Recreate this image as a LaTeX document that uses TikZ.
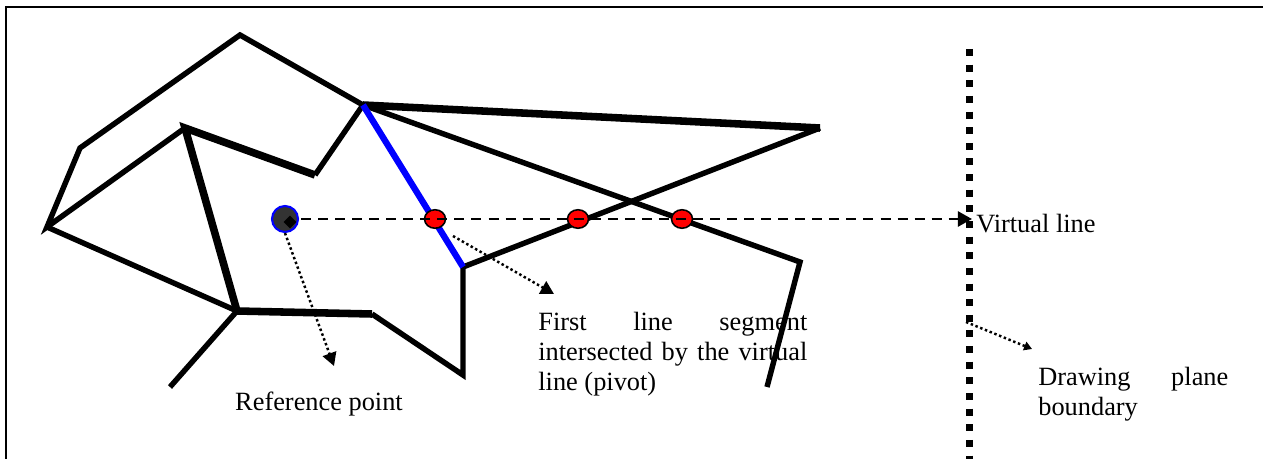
\documentclass[tikz,border=0pt]{standalone}
\usepackage{fontspec}
\setmainfont{Liberation Serif}
\usetikzlibrary{arrows.meta,positioning,shapes.geometric}

\begin{document}
\begin{tikzpicture}[
  x=0.02cm, y=-0.02cm,
  every node/.style={font=\fontsize{15}{17}\selectfont, inner sep=0pt},
  edge/.style ={line width=3.1pt},
  heavy/.style={line width=4.3pt},
  pivot/.style={line width=3.6pt, draw=blue},
  hit/.style  ={ellipse, draw=black, line width=0.9pt, fill=red,
                minimum width=0.42cm, minimum height=0.37cm},
  refpt/.style={circle, draw=blue, line width=1.2pt, fill=black!80,
                minimum size=0.52cm},
  virt/.style ={-{Triangle[length=8pt,width=8.5pt]}, line width=1.5pt,
                dash pattern=on 5.7pt off 4pt},
  pointer/.style={-{Triangle[length=7.5pt,width=8pt]}, line width=1.4pt,
                dash pattern=on 1.4pt off 1.5pt},
  border/.style={line width=4pt, dash pattern=on 4pt off 4.9pt},
  note/.style ={align=justify, anchor=north west}]

\clip (0,0) rectangle (1263,459);
\useasboundingbox (0,0) rectangle (1263,459);
\draw[line width=1.2pt] (6,480) -- (6,7) -- (1290,7);

% vertices of the line drawing
\coordinate (A) at (240,35);
\coordinate (B) at (80,148);
\coordinate (C) at (47,227);
\coordinate (D) at (185,128);
\coordinate (E) at (315,175);
\coordinate (F) at (363,105);
\coordinate (G) at (820,128);
\coordinate (H) at (463,267);
\coordinate (I) at (463,375);
\coordinate (J) at (372,314);
\coordinate (K) at (237,311);
\coordinate (L) at (170,387);
\coordinate (M) at (800,262);
\coordinate (N) at (767,387);

% labels
\node[anchor=base west] (vlab) at (976,233) {Virtual line};
\node[anchor=base] (rlab) at (319,410) {Reference point};
\node[note, text width=5.38cm] (plab) at (538,312)
     {First line segment\linebreak intersected by the virtual\linebreak line (pivot)};
\node[note, text width=3.8cm] (blab) at (1038,367)
     {Drawing plane\linebreak boundary};

% segments
\draw[edge]  (D) -- (C) -- (B) -- (A) -- (F);
\draw[heavy] (K) -- (D) -- (E);
\draw[edge]  (E) -- (F);
\draw[heavy] (F) -- (G);
\draw[edge]  (F) -- (M) -- (N);
\draw[edge]  (H) -- (G);
\draw[edge]  (H) -- (I) -- (J);
\draw[heavy] (J) -- (K);
\draw[edge]  (C) -- (K) -- (L);
\draw[pivot] (F) -- (H);

% drawing plane boundary
\coordinate (btop) at (969,49);
\coordinate (bbot) at (969,470);
\draw[border] (btop) -- (bbot);

% reference point and the virtual line
\node[refpt] (ref) at (285,219) {};
\node[fill=black, rotate=45, minimum size=0.18cm] (refmark) at (290,222) {};
\node[hit] (hit1) at (435,219) {};
\node[hit] (hit2) at (578,219) {};
\node[hit] (hit3) at (682,219) {};
\coordinate (vend) at (972,219);
\draw[virt] (ref.east) ++(2,0) coordinate (vstart) -- (vend);

% pointers to the labels
\coordinate (rtip)  at (334,366);
\coordinate (pfrom) at (453,236);
\coordinate (ptip)  at (554,294);
\coordinate (bfrom) at (966,322);
\coordinate (btip)  at (1032,349);
\draw[pointer] (ref.south) -- (rtip);
\draw[pointer] (pfrom) -- (ptip);
\draw[pointer, -{Triangle[length=4.5pt,width=5pt]}] (bfrom) -- (btip);

\end{tikzpicture}
\end{document}
